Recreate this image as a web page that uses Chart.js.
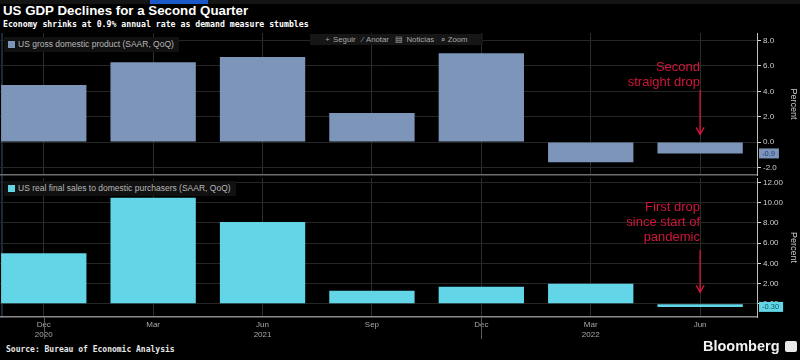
<!DOCTYPE html>
<html><head><meta charset="utf-8">
<script src="https://cdn.jsdelivr.net/npm/chart.js@4.4.0/dist/chart.umd.min.js"></script>
<style>
html,body{margin:0;padding:0;background:#000;width:800px;height:360px;overflow:hidden;position:relative;font-family:"Liberation Sans",Arial,sans-serif;}
.abs{position:absolute;white-space:nowrap;}
#strip{left:0;top:0;width:800px;height:4px;background:#141414;}
#stripBlue{left:150px;top:0;width:58px;height:4px;background:#1a57c9;}
#title{left:3px;top:3px;font:bold 13.3px "Liberation Sans";color:#fff;line-height:16px;}
#sub{left:3px;top:19px;font:bold 8.2px "DejaVu Sans Mono";color:#fff;line-height:10px;}
.legend{background:#111;padding:2px 5px 2px 4px;font:8.5px "Liberation Sans";color:#b8b8b8;line-height:11px;}
.legend i{display:inline-block;width:7px;height:7px;margin-right:3px;vertical-align:-1px;}
#tool{left:310px;top:34px;width:173px;height:11px;background:#161616;font:7.8px "Liberation Sans";color:#a8a8a8;line-height:11px;text-align:center;word-spacing:1px;}
.note{color:#d0163a;font:13px "Liberation Sans";text-align:right;line-height:15px;}
#source{left:6px;top:345px;font:bold 8px "DejaVu Sans Mono";color:#e8e8e8;line-height:10px;}
#logo{left:703px;top:338px;font:bold 14.5px "Liberation Sans";color:#f2f2f2;line-height:17px;}
#logoIcon{left:785px;top:341px;width:12px;height:11px;background:#e8e8e8;border-radius:2px;}
#leftLine{left:1px;top:33px;width:2px;height:285px;background:#1d2a36;}
canvas{position:absolute;}
</style>
</head><body>
<div class="abs" id="strip"></div><div class="abs" id="stripBlue"></div>
<div class="abs" id="title">US GDP Declines for a Second Quarter</div>
<div class="abs" id="sub">Economy shrinks at 0.9% annual rate as demand measure stumbles</div>
<div class="abs" id="leftLine"></div>
<canvas id="top" width="800" height="144" style="left:0;top:33px"></canvas>
<canvas id="bottom" width="800" height="165" style="left:0;top:178px"></canvas>
<div class="abs legend" style="left:4px;top:37px"><i style="background:#7d95b9"></i>US gross domestic product (SAAR, QoQ)</div>
<div class="abs legend" style="left:4px;top:181px"><i style="background:#62d6e6"></i>US real final sales to domestic purchasers (SAAR, QoQ)</div>
<div class="abs" id="tool">+ Seguir &nbsp;⁄ Anotar &nbsp;▤ Noticias &nbsp;⌕ Zoom</div>
<div class="abs note" style="right:100px;top:59px">Second<br>straight drop</div>
<div class="abs note" style="right:100px;top:199px">First drop<br>since start of<br>pandemic</div>
<div class="abs" id="source">Source: Bureau of Economic Analysis</div>
<div class="abs" id="logo">Bloomberg</div>
<div class="abs" id="logoIcon"></div>
<script>
const quarterLabels = ['Dec', 'Mar', 'Jun', 'Sep', 'Dec', 'Mar', 'Jun'];
const yearLabels = ['2020', '', '2021', '', '', '2022', ''];
const gdp = [4.5, 6.3, 6.7, 2.3, 7.0, -1.6, -0.9];
const finalSales = [5.0, 10.5, 8.1, 1.3, 1.7, 2.0, -0.3];
const gdpTicks = [-2, 0, 2, 4, 6, 8];
const salesTicks = [0, 2, 4, 6, 8, 10, 12];
const yearBoundaries = [0, 4];

Chart.defaults.font.family = '"Liberation Sans", Arial, sans-serif';
Chart.defaults.animation = false;

const idx = quarterLabels.map((_, i) => i);

const markerPlugin = {
  id: 'marker',
  afterDraw(chart, args, o) {
    const ctx = chart.ctx, x = chart.scales.x, y = chart.scales.y;
    ctx.save();
    if (o.arrow) {
      const ax = x.getPixelForValue(o.arrow.at);
      const y1 = y.getPixelForValue(o.arrow.from), y2 = y.getPixelForValue(o.arrow.to);
      ctx.strokeStyle = o.arrow.color; ctx.lineWidth = 1.4;
      ctx.beginPath(); ctx.moveTo(ax, y1); ctx.lineTo(ax, y2);
      ctx.moveTo(ax - 4, y2 - 7); ctx.lineTo(ax, y2); ctx.lineTo(ax + 4, y2 - 7);
      ctx.stroke();
    }
    if (o.years) {
      ctx.strokeStyle = '#5a5a5a'; ctx.lineWidth = 1;
      o.years.forEach(i => {
        const px = Math.round(x.getPixelForValue(i)) + 0.5;
        ctx.beginPath(); ctx.moveTo(px, chart.chartArea.bottom); ctx.lineTo(px, chart.chartArea.bottom + 22); ctx.stroke();
      });
    }
    if (o.last) {
      const v = o.last.value, py = y.getPixelForValue(v);
      ctx.font = '7.5px "Liberation Sans"';
      const txt = v.toFixed(o.last.digits);
      const w = ctx.measureText(txt).width + 7;
      ctx.fillStyle = o.last.bg;
      ctx.fillRect(y.left + 2, py - 5, w, 10);
      ctx.fillStyle = o.last.fg; ctx.textBaseline = 'middle'; ctx.textAlign = 'left';
      ctx.fillText(txt, y.left + 5, py + 0.5);
    }
    ctx.restore();
  }
};

function yScale(min, max, ticks, digits) {
  return {
    position: 'right', min: min, max: max,
    afterBuildTicks: s => { s.ticks = ticks.map(v => ({ value: v })); },
    afterFit: s => { s.width = 43; s.paddingTop = 0; s.paddingBottom = 0; },
    grid: { color: '#262626', tickColor: '#d8d8d8', tickLength: 4, drawTicks: true },
    border: { display: true, color: '#bdbdbd' },
    ticks: { color: '#cfcfcf', font: { size: 8 }, padding: 2, callback: v => v.toFixed(digits) },
    title: { display: true, text: 'Percent', color: '#cfcfcf', font: { size: 9 }, padding: 1 }
  };
}

function xScale(showLabels, h, borderColor) {
  return {
    type: 'linear', min: -0.4, max: 6.52, offset: false,
    afterBuildTicks: s => { s.ticks = idx.map(v => ({ value: v })); },
    afterFit: s => { s.height = h; s.paddingLeft = 0; s.paddingRight = 0; },
    grid: { color: '#2c2c2c', drawTicks: false, offset: false },
    border: { display: true, color: borderColor, width: 1.5 },
    ticks: {
      display: showLabels, color: '#a8a8a8', font: { size: 8 }, padding: 3, maxRotation: 0, autoSkip: false,
      callback: v => [quarterLabels[v], yearLabels[v]]
    }
  };
}

function makeChart(id, data, color, yMin, yMax, ticks, digits, showX, xH, border, marker) {
  return new Chart(document.getElementById(id), {
    type: 'bar',
    data: { datasets: [{ data: idx.map(i => ({ x: i, y: data[i] })), backgroundColor: color, categoryPercentage: 1, barPercentage: 0.78 }] },
    options: {
      responsive: false, maintainAspectRatio: false,
      layout: { padding: 0 },
      plugins: { legend: { display: false }, tooltip: { enabled: false }, marker: marker },
      scales: { x: xScale(showX, xH, border), y: yScale(yMin, yMax, ticks, digits) }
    },
    plugins: [markerPlugin]
  });
}

makeChart('top', gdp, '#7d95b9', -2.6, 8.6, gdpTicks, 1, false, 2, '#6e6e6e', {
  arrow: { at: 6, from: 4.1, to: 0.6, color: '#d0163a' },
  last: { value: gdp[gdp.length - 1], digits: 1, bg: '#7d95b9', fg: '#1d3b78' }
});
makeChart('bottom', finalSales, '#62d6e6', -1.3, 12.45, salesTicks, 2, true, 26, '#8a8a8a', {
  arrow: { at: 6, from: 5.3, to: 1.15, color: '#d0163a' },
  years: yearBoundaries,
  last: { value: finalSales[finalSales.length - 1], digits: 2, bg: '#62d6e6', fg: '#0d5766' }
});
</script>
</body></html>
